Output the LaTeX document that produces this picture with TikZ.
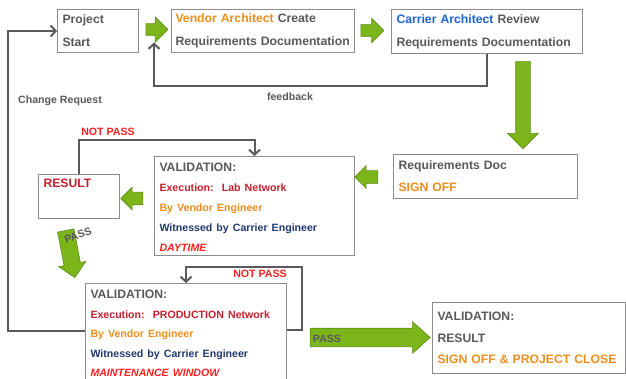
\documentclass[tikz,border=0pt]{standalone}
\usepackage{fontspec}
\setmainfont{Liberation Sans}
\usetikzlibrary{arrows.meta,shapes.arrows}

\definecolor{txtgray}{HTML}{595959}
\definecolor{vorange}{HTML}{EE8E1C}
\definecolor{cblue}{HTML}{1F63D0}
\definecolor{navy}{HTML}{1F3A6E}
\definecolor{dred}{HTML}{C4202E}
\definecolor{bred}{HTML}{FF1F1F}
\definecolor{boxgray}{HTML}{8C8C8C}
\definecolor{linegray}{HTML}{5A5A5A}
\definecolor{agreen}{HTML}{7CB519}
\definecolor{agreenedge}{HTML}{5E8C12}

\newcommand{\smtxt}{\fontsize{10.6}{20}\selectfont}

\tikzset{
  box/.style={draw=boxgray, line width=1pt, fill=white, anchor=north west,
    align=left, inner xsep=5pt, text=txtgray,
    font=\fontsize{12.2}{#1}\selectfont\bfseries},
  box/.default=23,
  garrow/.style={single arrow, draw=agreenedge, fill=agreen, line width=0.6pt,
    inner xsep=0pt, text height=0pt, text depth=0pt},
  fline/.style={draw=linegray, line width=2pt, -{Straight Barb[length=5pt,width=11pt]}},
  lbl/.style={font=\smtxt\bfseries, text=txtgray, inner sep=1pt},
}

\begin{document}
\begin{tikzpicture}[x=1pt, y=-1pt]
    % frame of the page
    \useasboundingbox (0,0) rectangle (626,379);
    \clip (0,0) rectangle (626,379);

    % top row: start, vendor, carrier
    \node[box, text width=71pt, minimum height=43pt] (start) at (57,9) {Project\\Start};
    \node[box, inner xsep=4pt, text width=175pt, minimum height=43pt] (vendor) at (171,9)
        {{\color{vorange}Vendor Architect} Create\\Requirements Documentation};
    \node[box, text width=181pt, minimum height=44pt] (carrier) at (391,9)
        {{\color{cblue}Carrier Architect} Review\\Requirements Documentation};

    % sign off of the requirements
    \node[box=22, text width=174pt, minimum height=44pt] (reqdoc) at (393,154)
        {Requirements Doc\\{\color{vorange}SIGN OFF}};

    % lab validation and its result
    \node[box=20, text width=190pt, minimum height=96pt, text height=12pt] (lab) at (154,156)
        {VALIDATION:\\
         {\smtxt\color{dred}Execution:~~Lab Network}\\
         {\smtxt\color{vorange}By Vendor Engineer}\\
         {\smtxt\color{navy}Witnessed by Carrier Engineer}\\
         {\smtxt\color{bred}\itshape DAYTIME}};
    \node[box, text width=71pt, minimum height=44pt, text height=9pt, text depth=26pt,
        text=dred] (result) at (38,174) {RESULT};

    % production validation
    \node[box=19.5, text width=191pt, minimum height=100pt] (prod) at (85,283)
        {VALIDATION:\\
         {\smtxt\color{dred}Execution:~~PRODUCTION Network}\\
         {\smtxt\color{vorange}By Vendor Engineer}\\
         {\smtxt\color{navy}Witnessed by Carrier Engineer}\\
         {\smtxt\color{bred}\itshape MAINTENANCE WINDOW}};

    % project close
    \node[box=21.5, text width=183pt, minimum height=71pt] (close) at (432,302)
        {VALIDATION:\\RESULT\\{\color{vorange}SIGN OFF \& PROJECT CLOSE}};

    % green block arrows
    \node[garrow, minimum height=22pt, minimum width=25pt, inner ysep=5.5pt, single arrow head extend=7pt] (ga1) at (154,29.5) {};
    \node[garrow, minimum height=23pt, minimum width=24pt, inner ysep=5.5pt, single arrow head extend=6.5pt] (ga2) at (369.5,30.5) {};
    \node[garrow, rotate=-90, minimum height=87pt, minimum width=30pt, inner ysep=7pt, single arrow head extend=8pt] (ga3) at (523,101.5) {};
    \node[garrow, rotate=180, minimum height=23pt, minimum width=22pt, inner ysep=6pt, single arrow head extend=5pt] (ga4) at (369.5,177) {};
    \node[garrow, rotate=180, minimum height=22pt, minimum width=22pt, inner ysep=6pt, single arrow head extend=5pt] (ga5) at (135,198.5) {};
    \node[garrow, rotate=-79, minimum height=48pt, minimum width=27pt, inner ysep=8pt, single arrow head extend=5.5pt] (ga6) at (69.5,250) {};
    \node[garrow, single arrow tip angle=84, minimum height=120pt, minimum width=31pt, inner ysep=9pt, single arrow head extend=6.5pt] (gpass) at (365,337.5) {};

    % feedback and change request loops
    \draw[fline] (carrier.south) -- ++(0,32) -| ([yshift=-13pt]ga1.center);
    \draw[fline] ([yshift=3pt]prod.west) -| ([xshift=-49pt]start.west) -- (start.west);

    % not pass loops
    \draw[fline] (result.north) -- ++(0,-34) -| (lab.north);
    \draw[fline] ([yshift=4pt]prod.east) -| ([xshift=15pt,yshift=16pt]prod.north east) -| (prod.north);

    % labels
    \node[lbl] (crlbl) at (60,101) {Change Request};
    \node[lbl] (fblbl) at (290,97) {feedback};
    \node[lbl, text=bred] (np1) at (108,132) {NOT PASS};
    \node[lbl, text=bred] (np2) at (260,274) {NOT PASS};
    \node[lbl, rotate=20] (pass1) at (78,235) {PASS};
    \node[lbl] (pass2) at (327,339) {PASS};

\end{tikzpicture}
\end{document}
